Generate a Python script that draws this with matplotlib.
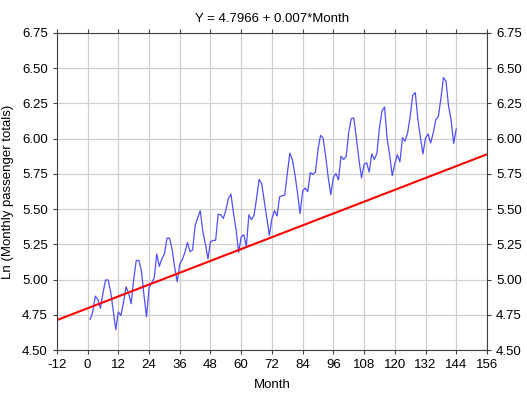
import numpy as np
import matplotlib.pyplot as plt

plt.rcParams['font.family'] = ['Liberation Sans', 'DejaVu Sans']
plt.rcParams['axes.unicode_minus'] = False

# Monthly airline passenger totals (thousands), 1949-1960
passengers = [
    112, 118, 132, 129, 121, 135, 148, 148, 136, 119, 104, 118,
    115, 126, 141, 135, 125, 149, 170, 170, 158, 133, 114, 140,
    145, 150, 178, 163, 172, 178, 199, 199, 184, 162, 146, 166,
    171, 180, 193, 181, 183, 218, 230, 242, 209, 191, 172, 194,
    196, 196, 236, 235, 229, 243, 264, 272, 237, 211, 180, 201,
    204, 188, 235, 227, 234, 264, 302, 293, 259, 229, 203, 229,
    242, 233, 267, 269, 270, 315, 364, 347, 312, 274, 237, 278,
    284, 277, 317, 313, 318, 374, 413, 405, 355, 306, 271, 306,
    315, 301, 356, 348, 355, 422, 465, 467, 404, 347, 305, 336,
    340, 318, 362, 348, 363, 435, 491, 505, 404, 359, 310, 337,
    360, 342, 406, 396, 420, 472, 548, 559, 463, 407, 362, 405,
    417, 391, 419, 461, 472, 535, 622, 606, 508, 461, 390, 432,
]
months = np.arange(1, len(passengers) + 1)
log_pass = np.log(passengers)

intercept = 4.7966
slope = 0.007
line_x = np.array([-12, 156])

x_ticks = list(range(-12, 157, 12))
y_ticks = [4.50, 4.75, 5.00, 5.25, 5.50, 5.75, 6.00, 6.25, 6.50, 6.75]

fig = plt.figure(figsize=(5.27, 3.96), dpi=100)
ax = fig.add_axes([0.108, 0.116, 0.816, 0.801])

ax.plot(months, log_pass, color='#5050ff', lw=0.9)
ax.plot(line_x, intercept + slope * line_x, color='#ff0000', lw=1.5)

ax.set_xlim(-12, 156)
ax.set_ylim(4.5, 6.75)
ax.set_xticks(x_ticks)
ax.set_yticks(y_ticks)
ax.set_yticklabels(['%.2f' % v for v in y_ticks])
ax.grid(True, color='#d0d0d0', lw=0.9)
ax.set_axisbelow(True)
ax.tick_params(direction='out', length=3, labelsize=9.5, color='#404040',
               top=True, right=True, labelright=True)
for s in ax.spines.values():
    s.set_color('#404040')

ax.set_title('Y = 4.7966 + 0.007*Month', fontsize=9.5, pad=8)
ax.set_xlabel('Month', fontsize=9.5, labelpad=6)
ax.set_ylabel('Ln (Monthly passenger totals)', fontsize=9.5, labelpad=6)

fig.savefig('out.png', dpi=100)
